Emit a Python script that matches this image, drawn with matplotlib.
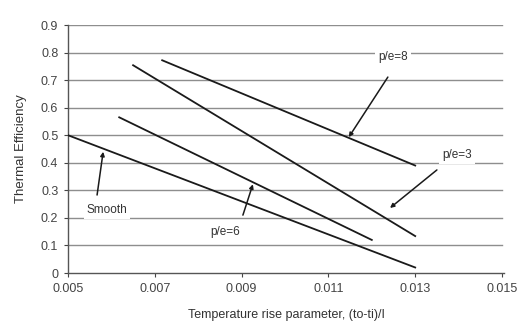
import matplotlib
matplotlib.use("Agg")
from matplotlib import pyplot as plt

# efficiency curves: endpoints of each straight fit
smooth_x = [0.005, 0.013]
smooth_y = [0.50, 0.02]
pe6_x = [0.00618, 0.0120]
pe6_y = [0.565, 0.12]
pe3_x = [0.0065, 0.0130]
pe3_y = [0.754, 0.134]
pe8_x = [0.00717, 0.0130]
pe8_y = [0.772, 0.39]

x_ticks = [0.005, 0.007, 0.009, 0.011, 0.013, 0.015]
x_tick_labels = ['0.005', '0.007', '0.009', '0.011', '0.013', '0.015']
y_ticks = [0, 0.1, 0.2, 0.3, 0.4, 0.5, 0.6, 0.7, 0.8, 0.9]
y_tick_labels = ['0', '0.1', '0.2', '0.3', '0.4', '0.5', '0.6', '0.7', '0.8', '0.9']

# label text, label position, arrow tail, arrow tip
labels = [
    ('p/e=8', (0.01249, 0.784), (0.01237, 0.711), (0.01147, 0.493)),
    ('p/e=3', (0.01396, 0.428), (0.01350, 0.374), (0.01242, 0.236)),
    ('p/e=6', (0.00862, 0.149), (0.00903, 0.210), (0.00926, 0.322)),
    ('Smooth', (0.00590, 0.229), (0.00567, 0.283), (0.00581, 0.440)),
]

plt.rcParams['font.family'] = ['Liberation Sans', 'DejaVu Sans']
fig = plt.figure(figsize=(5.22, 3.33), dpi=100)
ax = fig.add_axes([68 / 522, 60 / 333, 436 / 522, 248 / 333])

for yv in y_ticks[1:]:
    ax.plot([0.005, 0.015], [yv, yv], color='#8e8e8e', lw=1.0, zorder=1)

for xs, ys in [(smooth_x, smooth_y), (pe6_x, pe6_y), (pe3_x, pe3_y), (pe8_x, pe8_y)]:
    ax.plot(xs, ys, color='#1a1a1a', lw=1.3, zorder=3)

for text, pos, tail, tip in labels:
    ax.text(pos[0], pos[1], text, ha='center', va='center', fontsize=8.5,
            color='#333333', zorder=4,
            bbox=dict(boxstyle='square,pad=0.25', fc='white', ec='none'))
    ax.annotate('', xy=tip, xytext=tail, zorder=4,
                arrowprops=dict(arrowstyle='-|>', color='#1a1a1a', lw=1.1,
                                mutation_scale=6, shrinkA=0, shrinkB=0))

ax.set_xlim(0.005, 0.005 + 0.01 * 436 / 434)
ax.set_ylim(0, 0.9)
ax.set_xticks(x_ticks)
ax.set_xticklabels(x_tick_labels)
ax.set_yticks(y_ticks)
ax.set_yticklabels(y_tick_labels)
ax.tick_params(labelsize=9, colors='#444444', length=3, width=0.8, pad=4)

for side in ['top', 'right']:
    ax.spines[side].set_visible(False)
for side in ['left', 'bottom']:
    ax.spines[side].set_color('#555555')
    ax.spines[side].set_linewidth(1.0)

ax.set_xlabel('Temperature rise parameter, (to-ti)/I', fontsize=9, color='#333333', labelpad=10)
ax.set_ylabel('Thermal Efficiency', fontsize=9.5, color='#333333', labelpad=10)

fig.savefig('out.png', dpi=100)
